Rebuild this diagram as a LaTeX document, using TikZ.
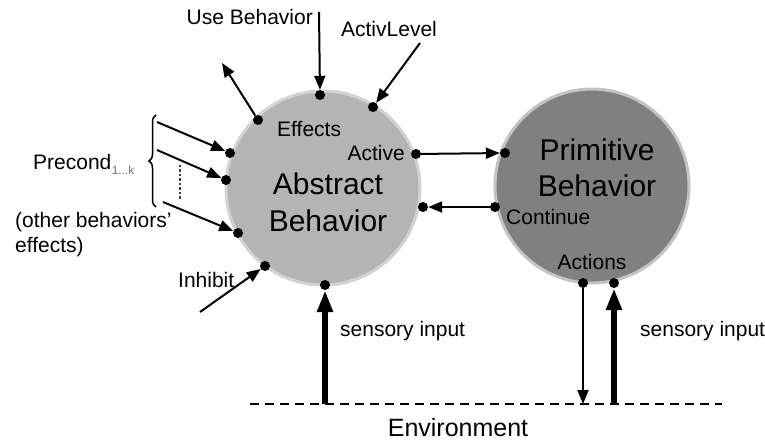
\documentclass[tikz,border=0pt]{standalone}
\usepackage{fontspec}
\setmainfont{Liberation Sans}
\usetikzlibrary{arrows.meta,decorations.pathreplacing}
\definecolor{absfill}{HTML}{B4B4B4}
\definecolor{absedge}{HTML}{D2D2D2}
\definecolor{primfill}{HTML}{808080}
\definecolor{primedge}{HTML}{C4C4C4}
\begin{document}
\begin{tikzpicture}[x=1pt,y=-1pt,
  lbl/.style={font=\fontsize{21}{25}\selectfont, inner sep=0pt},
  big/.style={font=\fontsize{30}{36}\selectfont, align=center, inner sep=0pt},
  behav/.style={circle, minimum size=194pt, inner sep=0pt, line width=3pt},
  port/.style={circle, fill=black, inner sep=0pt, minimum size=10pt},
  sig/.style={line width=2pt, -{Triangle[length=14pt,width=11pt]}},
  sense/.style={line width=6pt, -{Triangle[length=22pt,width=15pt]}}]
\useasboundingbox (0,0) rectangle (765,443);

% behaviours
\node[behav, fill=absfill, draw=absedge] (abs) at (323,188) {};
\node[behav, fill=primfill, draw=primedge] (prim) at (592,186) {};
\node[big, anchor=base] (abstxt) at (328,195) {Abstract};
\node[big, anchor=base] (abstxt2) at (328,232) {Behavior};
\node[big, anchor=base] (primtxt) at (597,161) {Primitive};
\node[big, anchor=base] (primtxt2) at (597,197) {Behavior};

% ports on the abstract behaviour
\node[port] (ubdot) at (320,95) {};
\node[port] (aldot) at (373,107) {};
\node[port] (effdot) at (258,120) {};
\node[port] (actdot) at (416,154) {};
\node[port] (absin) at (423,207) {};
\node[port] (pc1) at (230,153) {};
\node[port] (pc2) at (226,180) {};
\node[port] (pc3) at (238,233) {};
\node[port] (inhdot) at (265,266) {};
\node[port] (sens1) at (325,285) {};

% ports on the primitive behaviour
\node[port] (primin) at (505,153) {};
\node[port] (contdot) at (495,207) {};
\node[port] (outdot) at (583,283) {};
\node[port] (sens2) at (614,283) {};

% free ends
\coordinate (ubsrc) at (319,12);
\coordinate (alsrc) at (420,43);
\coordinate (effend) at (222,63);
\coordinate (pcs1) at (157,122);
\coordinate (pcs2) at (157,150);
\coordinate (pcs3) at (163,202);
\coordinate (inhsrc) at (200,312);
\coordinate (env1) at (325,404);
\coordinate (envout) at (583,404);
\coordinate (env2) at (614,404);
\coordinate (envl) at (250,404);
\coordinate (envr) at (722,404);

% connectors
\draw[sig] (ubsrc) -- (ubdot);
\draw[sig] (alsrc) -- (aldot);
\draw[sig] (effdot) -- (effend);
\draw[sig] (actdot) -- (primin);
\draw[sig] (contdot) -- (absin);
\draw[sig] (pcs1) -- (pc1);
\draw[sig] (pcs2) -- (pc2);
\draw[sig] (pcs3) -- (pc3);
\draw[sig] (inhsrc) -- (inhdot);
\draw[sig] (outdot) -- (envout);
\draw[sense] (env1) -- (sens1);
\draw[sense] (env2) -- (sens2);

% environment boundary
\draw[line width=2pt, dash pattern=on 9pt off 6pt] (envl) -- (envr);

% precondition brace and ellipsis
\draw[line width=1.5pt, decorate, decoration={brace, amplitude=7pt}] (156,207) -- (156,115);
\draw[line width=2.5pt, dotted, black!75] (180,165) -- (180,200);

% labels
\node[lbl, anchor=base east] (lub) at (313,25) {Use Behavior};
\node[lbl, anchor=base] (lal) at (389,37) {ActivLevel};
\node[lbl, anchor=base west] (leff) at (277,137) {Effects};
\node[lbl, anchor=base east] (lact) at (405,161) {Active};
\node[lbl, anchor=base west] (lcont) at (506,225) {Continue};
\node[lbl, anchor=base] (lacts) at (592,270) {Actions};
\node[lbl, anchor=base west] (linh) at (178,288) {Inhibit};
\node[lbl, anchor=base west] (lpre) at (33,170) {Precond};
\node[anchor=base west, inner sep=0pt, font=\fontsize{12}{12}\selectfont, text=black!55] (lsub) at (lpre.base east) {\raisebox{-5pt}{1...k}};
\node[lbl, anchor=base west] (loth) at (15,228) {(other behaviors'};
\node[lbl, anchor=base west] (loth2) at (15,253) {effects)};
\node[lbl, anchor=base west] (ls1) at (340,337) {sensory input};
\node[lbl, anchor=base west] (ls2) at (640,337) {sensory input};
\node[font=\fontsize{25}{25}\selectfont, inner sep=0pt, anchor=base] (lenv) at (458,436) {Environment};
\end{tikzpicture}
\end{document}
